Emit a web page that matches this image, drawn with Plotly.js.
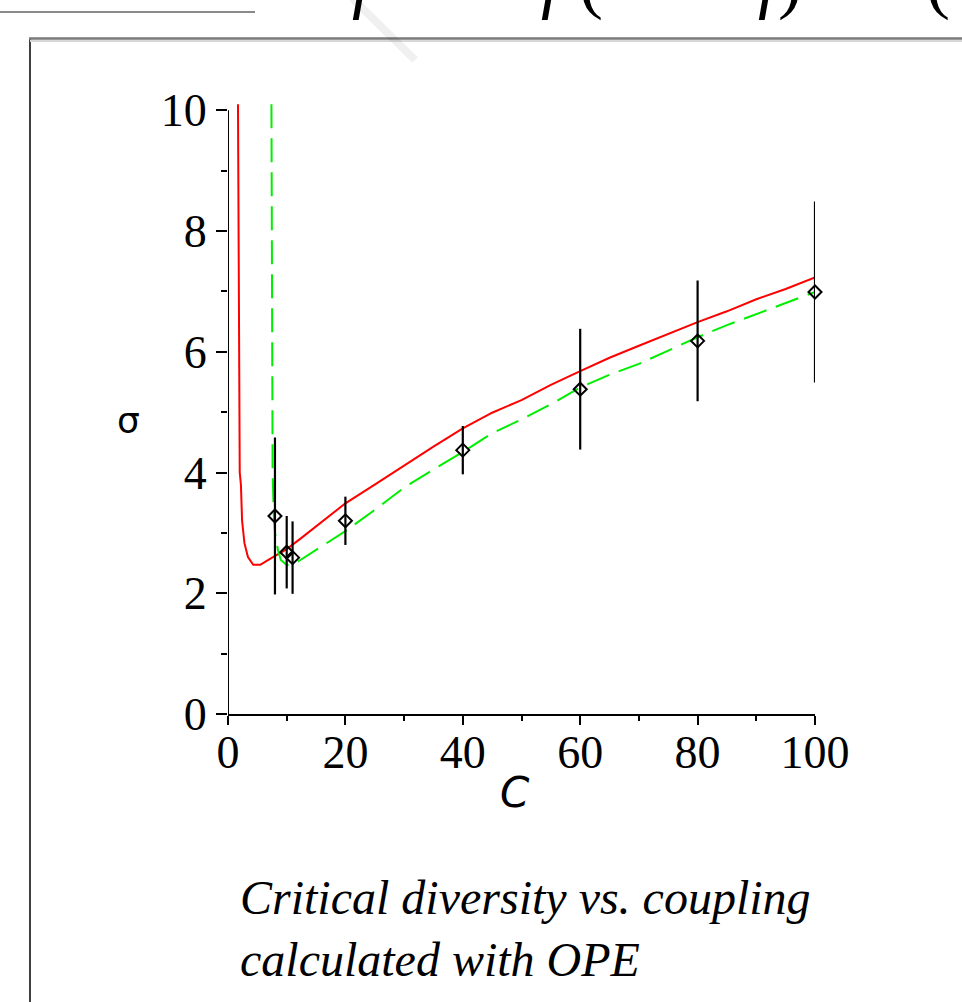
<!DOCTYPE html>
<html>
<head>
<meta charset="utf-8">
<script src="https://cdn.plot.ly/plotly-3.0.1.min.js"></script>
<style>
  html, body { margin: 0; padding: 0; background: #fff; overflow: hidden; }
  #chart { width: 962px; height: 1002px; }
</style>
</head>
<body>
<div id="chart"></div>
<script>
// Coupling strength C and critical diversity sigma
const redC = [1.7, 1.85, 2.0, 2.2, 2.4, 2.8, 3.4, 4.3, 5.5, 6.8, 8.8, 10, 12.3, 14.5, 17.4, 20, 25, 30, 35, 40, 45, 50, 55, 60, 65, 70, 75, 80, 85, 90, 95, 100];
const redSigma = [10.1, 7.0, 4.0, 3.8, 3.2, 2.83, 2.6, 2.47, 2.47, 2.55, 2.66, 2.73, 2.9, 3.07, 3.29, 3.49, 3.8, 4.12, 4.43, 4.73, 4.99, 5.2, 5.45, 5.68, 5.9, 6.1, 6.3, 6.49, 6.67, 6.87, 7.04, 7.23];

const greenC = [7.4, 7.5, 7.6, 7.8, 8.0, 8.5, 9, 10, 11, 12, 13.6, 15, 17.5, 20, 25, 30, 35, 40, 45, 50, 55, 60, 65, 70, 75, 80, 85, 90, 95, 100];
const greenSigma = [10.1, 7.0, 4.0, 3.3, 3.0, 2.72, 2.55, 2.47, 2.48, 2.53, 2.63, 2.73, 2.88, 3.03, 3.38, 3.75, 4.05, 4.34, 4.65, 4.88, 5.13, 5.41, 5.62, 5.8, 6.02, 6.24, 6.44, 6.62, 6.8, 6.99];

// Simulation points with their spread
const simC = [8, 10, 11, 20, 40, 60, 80, 100];
const simSigma = [3.28, 2.68, 2.59, 3.2, 4.37, 5.38, 6.18, 6.99];
const simErr = [1.3, 0.6, 0.6, 0.4, 0.4, 1.0, 1.0, 1.5];

const xTicks = [0, 20, 40, 60, 80, 100];
const yTicks = [0, 2, 4, 6, 8, 10];

const captionLines = ["Critical diversity vs. coupling", "calculated with OPE"];

// page geometry helpers (pixel -> paper fraction)
const W = 962, H = 1002;
const M = { l: 228, r: 147, t: 103, b: 288 };
const fx = p => (p - M.l) / (W - M.l - M.r);
const fy = p => (H - M.b - p) / (H - M.t - M.b);

const serif = "'Liberation Serif', 'DejaVu Serif', serif";

const traces = [
  {
    x: redC, y: redSigma, mode: 'lines', type: 'scatter',
    line: { color: '#ff0000', width: 2 }, hoverinfo: 'skip'
  },
  {
    x: greenC, y: greenSigma, mode: 'lines', type: 'scatter',
    line: { color: '#00ee00', width: 2, dash: '24px,10px' }, hoverinfo: 'skip'
  },
  {
    x: simC, y: simSigma, mode: 'markers', type: 'scatter',
    marker: { symbol: 'diamond-open', size: 10, color: '#000', line: { width: 2, color: '#000' } },
    error_y: { type: 'data', array: simErr, visible: true, color: '#000', thickness: 2.2, width: 0 },
    cliponaxis: false, hoverinfo: 'skip'
  }
];

const layout = {
  width: W, height: H,
  margin: M,
  paper_bgcolor: '#fff', plot_bgcolor: '#fff',
  showlegend: false,
  font: { family: serif, color: '#000' },
  xaxis: {
    range: [0, 100], tickvals: xTicks, ticktext: xTicks.map(String),
    showgrid: false, zeroline: false,
    showline: true, linecolor: '#000', linewidth: 2,
    ticks: 'outside', ticklen: 9, tickwidth: 2, tickcolor: '#000',
    minor: { dtick: 10, ticks: 'outside', ticklen: 5, tickwidth: 2, tickcolor: '#000', showgrid: false },
    tickfont: { family: serif, size: 46, color: '#000' },
    ticklabelstandoff: -12,
    fixedrange: true
  },
  yaxis: {
    range: [0, 10.12], tickvals: yTicks, ticktext: yTicks.map(String),
    showgrid: false, zeroline: false, showline: false,
    ticks: 'outside', ticklen: 11, tickwidth: 2, tickcolor: '#000',
    minor: { tickvals: [1, 3, 5, 7, 9], ticks: 'outside', ticklen: 6, tickwidth: 2, tickcolor: '#000', showgrid: false },
    tickfont: { family: serif, size: 46, color: '#000' },
    fixedrange: true
  },
  shapes: [
    // y axis line from 0 to 10
    { type: 'line', xref: 'x', yref: 'y', x0: 0, x1: 0, y0: 0, y1: 10, line: { color: '#000', width: 2 } },
    // frame around the figure
    { type: 'line', xref: 'paper', yref: 'paper', x0: fx(30), x1: fx(30), y0: fy(38), y1: fy(1010), line: { color: '#000', width: 1.5 } },
    { type: 'line', xref: 'paper', yref: 'paper', x0: fx(29), x1: fx(970), y0: fy(38.5), y1: fy(38.5), line: { color: '#7a7a7a', width: 2.5 } },
    { type: 'line', xref: 'paper', yref: 'paper', x0: fx(30), x1: fx(970), y0: fy(41), y1: fy(41), line: { color: '#d8d8d8', width: 2 } },
    // rule at the top left
    { type: 'line', xref: 'paper', yref: 'paper', x0: fx(-5), x1: fx(255), y0: fy(12), y1: fy(12), line: { color: '#8a8a8a', width: 2 } },
    // faint diagonal streak
    { type: 'line', xref: 'paper', yref: 'paper', x0: fx(352), x1: fx(415), y0: fy(-2), y1: fy(60), line: { color: 'rgba(0,0,0,0.06)', width: 8 } }
  ],
  annotations: [
    { xref: 'paper', yref: 'paper', x: fx(128), y: fy(420), text: 'σ', showarrow: false,
      font: { family: "'DejaVu Sans', sans-serif", size: 36, color: '#000' }, xanchor: 'center', yanchor: 'middle' },
    { xref: 'paper', yref: 'paper', x: fx(515), y: fy(792), text: '<i>C</i>', showarrow: false,
      font: { family: "'DejaVu Sans', sans-serif", size: 42, color: '#000' }, xanchor: 'center', yanchor: 'middle' },
    { xref: 'paper', yref: 'paper', x: fx(238), y: fy(928), text: '<i>' + captionLines.join('<br>') + '</i>', showarrow: false,
      align: 'left', font: { family: serif, size: 48, color: '#000' }, xanchor: 'left', yanchor: 'middle' },
    // formula line running off the top edge
    { xref: 'paper', yref: 'paper', x: fx(366), y: fy(-19), text: '<i>f</i>', showarrow: false,
      font: { family: serif, size: 72, color: '#000' }, xanchor: 'center', yanchor: 'middle' },
    { xref: 'paper', yref: 'paper', x: fx(572), y: fy(-19), text: '<i>f</i> (', showarrow: false,
      font: { family: serif, size: 72, color: '#000' }, xanchor: 'center', yanchor: 'middle' },
    { xref: 'paper', yref: 'paper', x: fx(780), y: fy(-19), text: '<i>f</i>)', showarrow: false,
      font: { family: serif, size: 72, color: '#000' }, xanchor: 'center', yanchor: 'middle' },
    { xref: 'paper', yref: 'paper', x: fx(938), y: fy(-19), text: '(', showarrow: false,
      font: { family: serif, size: 72, color: '#000' }, xanchor: 'center', yanchor: 'middle' }
  ]
};

Plotly.newPlot('chart', traces, layout, { staticPlot: true, displayModeBar: false });
</script>
</body>
</html>
